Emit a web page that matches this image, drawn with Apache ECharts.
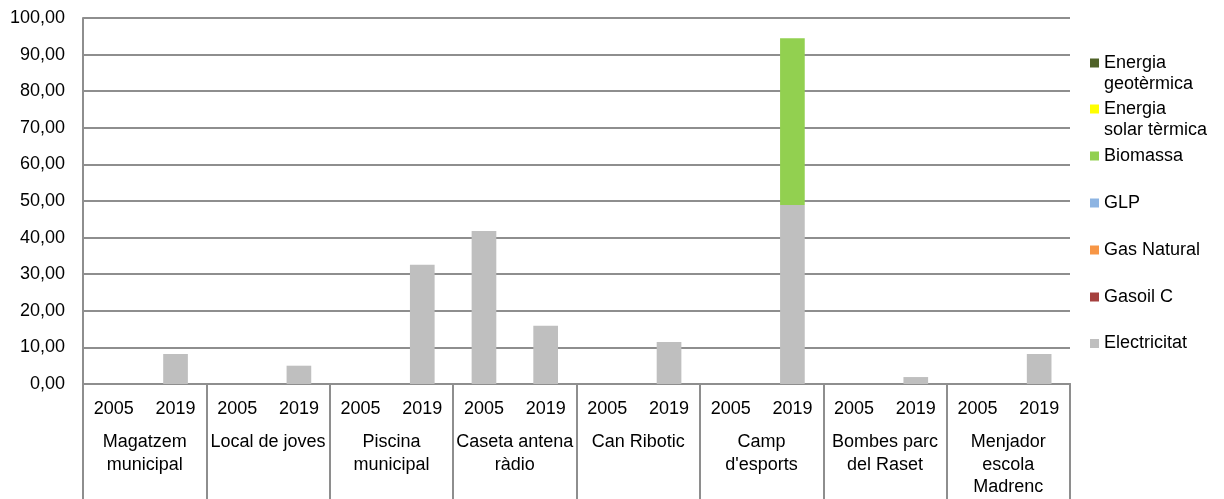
<!DOCTYPE html>
<html>
<head>
<meta charset="utf-8">
<title>Consum d'energia per equipament</title>
<script src="https://cdn.jsdelivr.net/npm/echarts@6/dist/echarts.min.js"></script>
<style>
  html, body { margin: 0; padding: 0; background: #ffffff; }
  #chart { width: 1224px; height: 499px; }
</style>
</head>
<body>
<div id="chart"></div>
<script>
// Equipaments (nivell inferior de l'eix) i anys (nivell superior)
const groups = [
  'Magatzem\nmunicipal', 'Local de joves', 'Piscina\nmunicipal', 'Caseta antena\nràdio',
  'Can Ribotic', "Camp\nd'esports", 'Bombes parc\ndel Raset', 'Menjador\nescola\nMadrenc'
];
const years = ['2005', '2019'];

// Valors per font d'energia, en l'ordre equipament × any
const electricitat = [0, 8.2, 0, 5.0, 0, 32.6, 41.8, 15.9, 0, 11.5, 0, 48.9, 0, 1.9, 0, 8.2];
const gasoilC      = [0, 0, 0, 0, 0, 0, 0, 0, 0, 0, 0, 0, 0, 0, 0, 0];
const gasNatural   = [0, 0, 0, 0, 0, 0, 0, 0, 0, 0, 0, 0, 0, 0, 0, 0];
const glp          = [0, 0, 0, 0, 0, 0, 0, 0, 0, 0, 0, 0, 0, 0, 0, 0];
const biomassa     = [0, 0, 0, 0, 0, 0, 0, 0, 0, 0, 0, 45.6, 0, 0, 0, 0];
const solarTermica = [0, 0, 0, 0, 0, 0, 0, 0, 0, 0, 0, 0, 0, 0, 0, 0];
const geotermica   = [0, 0, 0, 0, 0, 0, 0, 0, 0, 0, 0, 0, 0, 0, 0, 0];

// Ticks de l'eix Y
const yMin = 0, yMax = 100, yStep = 10;

const FONT = '"Liberation Sans", Arial, sans-serif';
const FS = 18;
const GRID_COLOR = '#8e8e8e';

// Sèries apilades, de baix a dalt
const seriesDefs = [
  { name: 'Electricitat',          data: electricitat, color: '#bfbfbf' },
  { name: 'Gasoil C',              data: gasoilC,      color: '#a5403e' },
  { name: 'Gas Natural',           data: gasNatural,   color: '#f79646' },
  { name: 'GLP',                   data: glp,          color: '#8db4e2' },
  { name: 'Biomassa',              data: biomassa,     color: '#92d050' },
  { name: 'Energia solar tèrmica', data: solarTermica, color: '#ffff00' },
  { name: 'Energia geotèrmica',    data: geotermica,   color: '#4f6228' }
];

// Llegenda: línies de text i centre vertical de la primera línia
const legendItems = [
  { name: 'Energia geotèrmica',    lines: ['Energia', 'geotèrmica'],    cy: 63 },
  { name: 'Energia solar tèrmica', lines: ['Energia', 'solar tèrmica'], cy: 109 },
  { name: 'Biomassa',              lines: ['Biomassa'],                 cy: 156 },
  { name: 'GLP',                   lines: ['GLP'],                      cy: 203 },
  { name: 'Gas Natural',           lines: ['Gas Natural'],              cy: 250 },
  { name: 'Gasoil C',              lines: ['Gasoil C'],                 cy: 297 },
  { name: 'Electricitat',          lines: ['Electricitat'],             cy: 343.5 }
];
const LEG_LH = 21;

const yearCats = [];
groups.forEach(g => years.forEach(y => yearCats.push(g + ' ' + y)));

// El text es centra sobre el marcador: per a noms de dues línies s'hi afegeix
// una línia buida a dalt perquè el marcador quedi a l'altura de la primera.
const legends = legendItems.map(it => {
  const n = it.lines.length;
  const textLines = n > 1 ? [''].concat(it.lines) : it.lines.slice();
  const boxH = LEG_LH * textLines.length;
  return {
    show: true,
    data: [it.name],
    left: 1090,
    top: it.cy - boxH / 2,
    padding: 0,
    itemWidth: 9,
    itemHeight: 9,
    itemGap: 0,
    icon: 'rect',
    selectedMode: false,
    formatter: () => textLines.join('\n'),
    textStyle: {
      fontFamily: FONT, fontSize: FS, color: '#000', lineHeight: LEG_LH
    }
  };
});

const chart = echarts.init(document.getElementById('chart'), null, { renderer: 'canvas' });
chart.setOption({
  animation: false,
  backgroundColor: '#ffffff',
  textStyle: { fontFamily: FONT },
  grid: { left: 83, right: 154, top: 18, bottom: 115, containLabel: false },
  legend: legends,
  xAxis: [
    {
      type: 'category',
      data: yearCats,
      position: 'bottom',
      axisLine: { show: true, lineStyle: { color: GRID_COLOR, width: 2 } },
      axisTick: { show: false },
      axisLabel: {
        interval: 0, margin: 16, color: '#000', fontFamily: FONT, fontSize: FS,
        formatter: (v, i) => years[i % years.length]
      },
      splitLine: { show: false }
    },
    {
      type: 'category',
      data: groups,
      position: 'bottom',
      axisLine: { show: true, lineStyle: { color: GRID_COLOR, width: 2 } },
      axisTick: { show: true, length: 115, inside: false, lineStyle: { color: GRID_COLOR, width: 2 } },
      axisLabel: {
        interval: 0, margin: 47, color: '#000', fontFamily: FONT, fontSize: FS,
        lineHeight: 22.5, align: 'center'
      },
      splitLine: { show: false }
    }
  ],
  yAxis: {
    type: 'value',
    min: yMin, max: yMax, interval: yStep,
    axisLine: { show: true, lineStyle: { color: GRID_COLOR, width: 2 } },
    axisTick: { show: false },
    axisLabel: {
      margin: 18, color: '#000', fontFamily: FONT, fontSize: FS,
      formatter: v => v.toFixed(2).replace('.', ',')
    },
    splitLine: { show: true, lineStyle: { color: GRID_COLOR, width: 2 } }
  },
  series: seriesDefs.map(s => ({
    name: s.name,
    type: 'bar',
    xAxisIndex: 0,
    stack: 'total',
    barWidth: '40%',
    data: s.data,
    itemStyle: { color: s.color },
    emphasis: { disabled: true }
  }))
});
</script>
</body>
</html>
